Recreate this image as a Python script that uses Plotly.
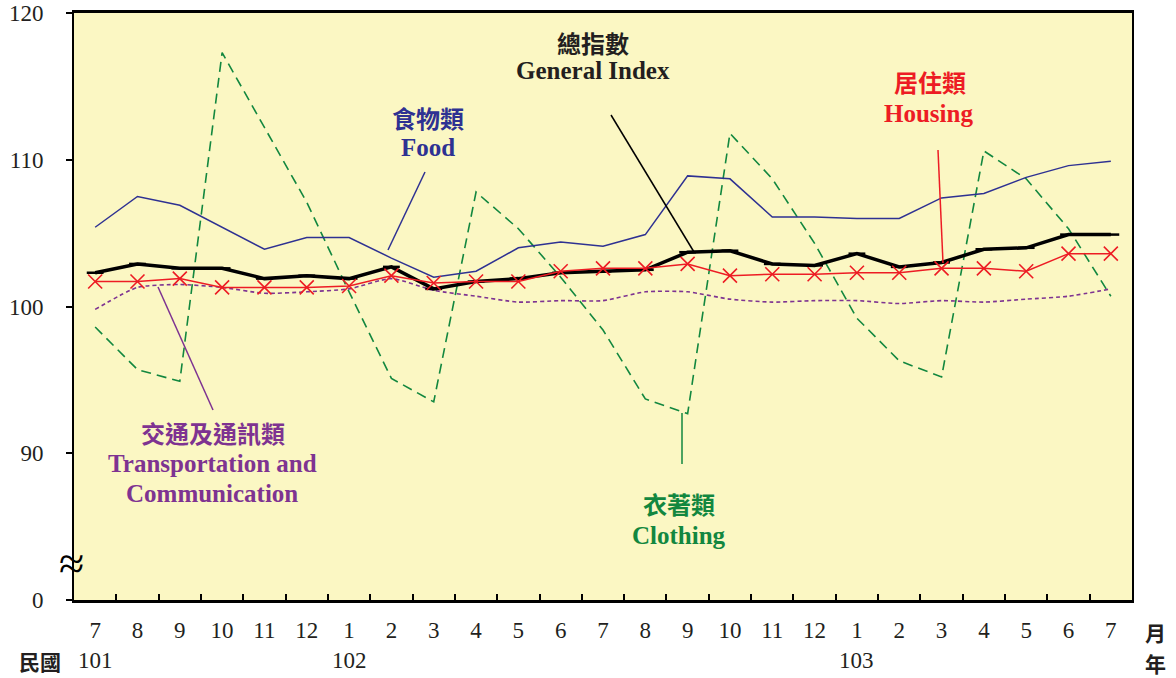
import plotly.graph_objects as go

months = ["7", "8", "9", "10", "11", "12",
          "1", "2", "3", "4", "5", "6", "7", "8", "9", "10", "11", "12",
          "1", "2", "3", "4", "5", "6", "7"]
year_labels = ["101", "102", "103"]
year_index = [0, 6, 18]

general = [102.3, 102.9, 102.6, 102.6, 101.9, 102.1, 101.9, 102.7, 101.2, 101.7, 101.9, 102.3, 102.4,
           102.5, 103.7, 103.8, 102.9, 102.8, 103.6, 102.7, 103.0, 103.9, 104.0, 104.9, 104.9]
food = [105.4, 107.5, 106.9, 105.4, 103.9, 104.7, 104.7, 103.3, 102.0, 102.4, 104.0, 104.4, 104.1,
        104.9, 108.9, 108.7, 106.1, 106.1, 106.0, 106.0, 107.4, 107.7, 108.8, 109.6, 109.9]
housing = [101.7, 101.7, 101.9, 101.3, 101.3, 101.3, 101.4, 102.1, 101.6, 101.7, 101.7, 102.4, 102.6,
           102.6, 102.9, 102.1, 102.2, 102.2, 102.3, 102.3, 102.6, 102.6, 102.4, 103.6, 103.6]
transport = [99.8, 101.3, 101.5, 101.3, 100.9, 101.0, 101.2, 101.9, 101.1, 100.7, 100.3, 100.4, 100.4,
             101.0, 101.0, 100.5, 100.3, 100.4, 100.4, 100.2, 100.4, 100.3, 100.5, 100.7, 101.2]
clothing = [98.6, 95.7, 94.9, 117.3, 112.2, 107.1, 101.0, 95.1, 93.5, 107.8, 105.3, 102.0, 98.4,
            93.7, 92.7, 111.8, 108.7, 104.3, 99.2, 96.3, 95.2, 110.6, 108.7, 105.3, 100.7]

ytick_vals = [80, 90, 100, 110, 120]
ytick_text = ["0", "90", "100", "110", "120"]

x = list(range(len(months)))

C_FOOD = "#2e3192"
C_RED = "#ed1c24"
C_GREEN = "#12873f"
C_PURPLE = "#7e3391"
C_BLACK = "#000000"
C_TEXT = "#231f20"

SERIF = "Liberation Serif, Noto Sans CJK TC, serif"
CJK = "Noto Sans CJK TC, sans-serif"

# page layout (page pixels); body margin removed by post_script
L, R, T, B = 74, 1132, 13, 600
def px2x(px):
    return (px - L) / (R - L)
def py2y(py):
    return (B - py) / (B - T)

fig = go.Figure()
fig.add_trace(go.Scatter(x=x, y=clothing, mode="lines",
                         line=dict(color=C_GREEN, width=1.6, dash="10px,6px")))
fig.add_trace(go.Scatter(x=x, y=transport, mode="lines",
                         line=dict(color=C_PURPLE, width=1.6, dash="4px,3px", shape="spline", smoothing=0.6)))
fig.add_trace(go.Scatter(x=x, y=food, mode="lines",
                         line=dict(color=C_FOOD, width=1.5)))
fig.add_trace(go.Scatter(x=x, y=general, mode="lines+markers",
                         line=dict(color=C_BLACK, width=3.5),
                         marker=dict(symbol="line-ew", size=12, line=dict(color=C_BLACK, width=2.5))))
fig.add_trace(go.Scatter(x=x, y=housing, mode="lines+markers",
                         line=dict(color=C_RED, width=1.5),
                         marker=dict(symbol="x-thin", size=14, color=C_RED, line=dict(color=C_RED, width=1.6))))

annotations = []
def label(text, px, py, color, size, family=SERIF, bold=True):
    annotations.append(dict(x=px2x(px), y=py2y(py), xref="paper", yref="paper",
                            text=f"<b>{text}</b>" if bold else text,
                            showarrow=False, font=dict(family=family, size=size, color=color),
                            xanchor="center", yanchor="middle"))

label("總指數", 593, 42, C_TEXT, 24, CJK)
label("General Index", 593, 71, C_TEXT, 25)
label("食物類", 428, 117, C_FOOD, 24, CJK)
label("Food", 428, 148, C_FOOD, 25)
label("居住類", 930, 82, C_RED, 24, CJK)
label("Housing", 928, 113, C_RED, 25)
label("交通及通訊類", 213, 432, C_PURPLE, 24, CJK)
label("Transportation and", 212, 463, C_PURPLE, 25)
label("Communication", 212, 493, C_PURPLE, 25)
label("衣著類", 679, 503, C_GREEN, 24, CJK)
label("Clothing", 679, 535, C_GREEN, 25)

for yl, yi in zip(year_labels, year_index):
    annotations.append(dict(x=yi, y=py2y(660), xref="x", yref="paper", text=yl, showarrow=False,
                            font=dict(family=SERIF, size=23, color=C_TEXT),
                            xanchor="center", yanchor="middle"))
label("民國", 40, 661, C_TEXT, 21, CJK)
label("月", 1155, 632, C_TEXT, 21, CJK)
label("年", 1155, 663, C_TEXT, 21, CJK)
label("≈", 71, 563, C_BLACK, 46, "Liberation Serif", bold=False)

shapes = []
def pointer(x1, y1, x2, y2, color):
    shapes.append(dict(type="line", xref="paper", yref="paper",
                       x0=px2x(x1), y0=py2y(y1), x1=px2x(x2), y1=py2y(y2),
                       line=dict(color=color, width=1.5)))

pointer(611, 115, 694, 252, C_BLACK)
pointer(425, 172, 388, 250, C_FOOD)
pointer(938, 150, 943, 263, C_RED)
pointer(158, 287, 213, 410, C_PURPLE)
pointer(682, 413, 682, 464, C_GREEN)

fig.update_layout(
    width=1176, height=678,
    margin=dict(l=L, r=1176 - R, t=T, b=678 - B, autoexpand=False),
    paper_bgcolor="white", plot_bgcolor="#FBF7C3",
    showlegend=False,
    annotations=annotations, shapes=shapes,
    xaxis=dict(range=[-0.5, 24.5], tickmode="array", tickvals=x, ticktext=months,
               ticks="", showgrid=False, zeroline=False, automargin=False,
               showline=True, linecolor="black", linewidth=2.5, mirror=True,
               tickfont=dict(family=SERIF, size=23, color=C_TEXT), ticklabelstandoff=8,
               minor=dict(tickmode="array", tickvals=[i + 0.5 for i in range(24)],
                          ticks="inside", ticklen=6, tickwidth=2, tickcolor="black", showgrid=False)),
    yaxis=dict(range=[80, 120], tickmode="array", tickvals=ytick_vals, ticktext=ytick_text,
               ticks="outside", ticklen=6, tickwidth=1.5, tickcolor="black",
               showgrid=False, zeroline=False, automargin=False, ticklabeloverflow="allow",
               showline=True, linecolor="black", linewidth=2, mirror=True,
               tickfont=dict(family=SERIF, size=23, color=C_TEXT), ticklabelstandoff=18),
)

fig.write_html("out.html", config={"displayModeBar": False},
               post_script="document.body.style.margin='0px';")
